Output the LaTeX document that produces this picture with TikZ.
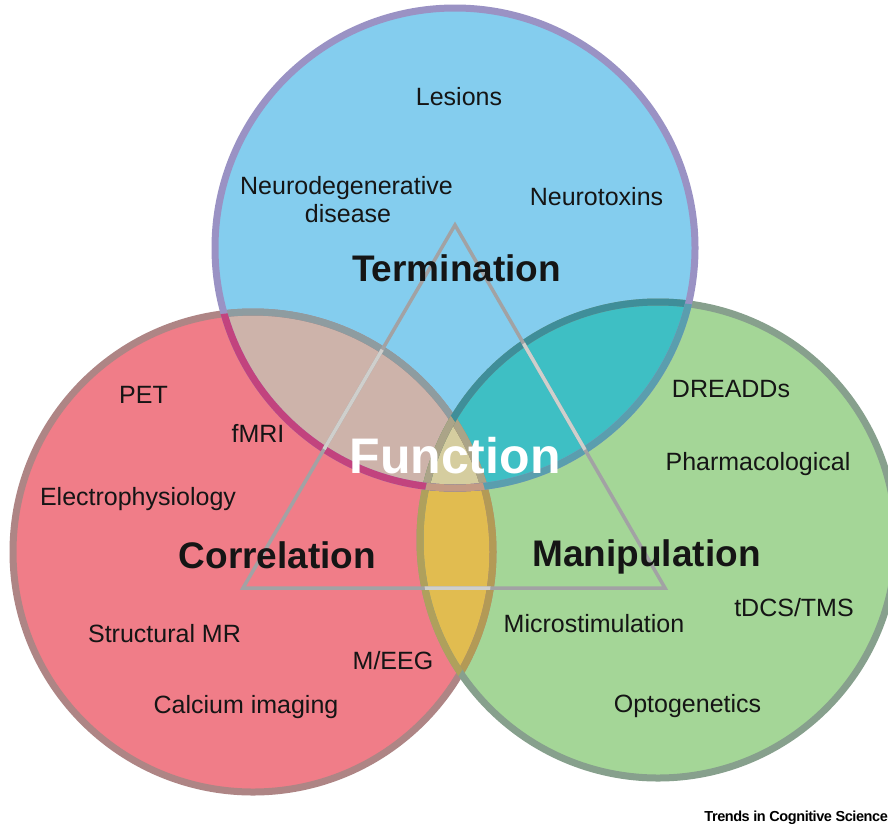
\documentclass[tikz,border=0pt]{standalone}
\usepackage{fontspec}
\setmainfont{Liberation Sans}
\definecolor{fT}{HTML}{84CDEE}
\definecolor{fL}{HTML}{F07D88}
\definecolor{fR}{HTML}{A4D697}
\definecolor{fTL}{HTML}{CDB3AA}
\definecolor{fTR}{HTML}{3EBFC4}
\definecolor{fLR}{HTML}{E1BC50}
\definecolor{fTLR}{HTML}{D5CD9F}
\definecolor{sT}{HTML}{9A92C4}
\definecolor{sTL}{HTML}{C2437E}
\definecolor{sTR}{HTML}{5A9EAE}
\definecolor{sTLR}{HTML}{C49A84}
\definecolor{sL}{HTML}{AE8585}
\definecolor{sLT}{HTML}{8E9CA0}
\definecolor{sLR}{HTML}{B39A56}
\definecolor{sLTR}{HTML}{ABA488}
\definecolor{sR}{HTML}{87A08D}
\definecolor{sRT}{HTML}{3F8E99}
\definecolor{sRL}{HTML}{AFA05C}
\definecolor{sRTL}{HTML}{ABA488}
\definecolor{triC}{HTML}{A2A2A4}
\definecolor{triLight}{HTML}{CFCFCC}
\definecolor{txt}{HTML}{151515}
\tikzset{
  ring/.style={line width=7pt},
  tri/.style={line width=3.5pt, draw=triC, line join=miter},
  trilight/.style={line width=3.5pt, draw=triLight, line join=miter},
  lbl/.style={anchor=base, inner sep=0pt, text=txt, font=\fontsize{25}{28}\selectfont},
  big/.style={anchor=base, inner sep=0pt, text=txt, font=\bfseries\fontsize{37}{40}\selectfont},
}
\begin{document}
\begin{tikzpicture}[x=1pt,y=-1pt]
\useasboundingbox (0,0) rectangle (888,825);
\fill[white] (0,0) rectangle (888,825);
\clip (0,0) rectangle (888,825);
\coordinate (cT) at (455,248);
\coordinate (cL) at (253,552);
\coordinate (cR) at (658,540);
% fills
\fill[fT] (cT) circle[radius=240pt];
\fill[fL] (cL) circle[radius=240pt];
\fill[fR] (cR) circle[radius=238pt];
\begin{scope}\clip (cT) circle[radius=240pt]; \fill[fTL] (cL) circle[radius=240pt];\end{scope}
\begin{scope}\clip (cT) circle[radius=240pt]; \fill[fTR] (cR) circle[radius=238pt];\end{scope}
\begin{scope}\clip (cL) circle[radius=240pt]; \fill[fLR] (cR) circle[radius=238pt];\end{scope}
\begin{scope}\clip (cT) circle[radius=240pt]; \clip (cL) circle[radius=240pt]; \fill[fTLR] (cR) circle[radius=238pt];\end{scope}
% left circle stroke
\draw[ring,sL] (cL) circle[radius=240pt];
\begin{scope}\clip (cT) circle[radius=240pt]; \draw[ring,sLT] (cL) circle[radius=240pt];\end{scope}
\begin{scope}\clip (cR) circle[radius=238pt]; \draw[ring,sLR] (cL) circle[radius=240pt];\end{scope}
\begin{scope}\clip (cT) circle[radius=240pt]; \clip (cR) circle[radius=238pt]; \draw[ring,sLTR] (cL) circle[radius=240pt];\end{scope}
% right circle stroke
\draw[ring,sR] (cR) circle[radius=238pt];
\begin{scope}\clip (cT) circle[radius=240pt]; \draw[ring,sRT] (cR) circle[radius=238pt];\end{scope}
\begin{scope}\clip (cL) circle[radius=240pt]; \draw[ring,sRL] (cR) circle[radius=238pt];\end{scope}
\begin{scope}\clip (cT) circle[radius=240pt]; \clip (cL) circle[radius=240pt]; \draw[ring,sRTL] (cR) circle[radius=238pt];\end{scope}
% top circle stroke
\draw[ring,sT] (cT) circle[radius=240pt];
\begin{scope}\clip (cL) circle[radius=240pt]; \draw[ring,sTL] (cT) circle[radius=240pt];\end{scope}
\begin{scope}\clip (cR) circle[radius=238pt]; \draw[ring,sTR] (cT) circle[radius=240pt];\end{scope}
\begin{scope}\clip (cL) circle[radius=240pt]; \clip (cR) circle[radius=238pt]; \draw[ring,sTLR] (cT) circle[radius=240pt];\end{scope}
% triangle
\coordinate (tA) at (455,225);
\coordinate (tB) at (243,588);
\coordinate (tC) at (665,588);
\draw[tri] (tA) -- (tB) -- (tC) -- cycle;
\begin{scope}\clip (cT) circle[radius=240pt]; \clip (cL) circle[radius=240pt]; \draw[trilight] (tA) -- (tB) -- (tC) -- cycle;\end{scope}
\begin{scope}\clip (cT) circle[radius=240pt]; \clip (cR) circle[radius=238pt]; \draw[trilight] (tA) -- (tB) -- (tC) -- cycle;\end{scope}
\begin{scope}\clip (cL) circle[radius=240pt]; \clip (cR) circle[radius=238pt]; \draw[trilight] (tA) -- (tB) -- (tC) -- cycle;\end{scope}
% labels: termination
\node[lbl] (lesions) at (459,105) {Lesions};
\node[lbl] (neurodeg) at (346.5,194) {Neurodegenerative};
\node[lbl] (disease) at (348,222) {disease};
\node[lbl] (neurotox) at (596.5,205) {Neurotoxins};
\node[big] (termination) at (456.5,281) {Termination};
% correlation
\node[lbl] (pet) at (143.5,403) {PET};
\node[lbl] (fmri) at (258,442) {fMRI};
\node[lbl] (ephys) at (138,505) {Electrophysiology};
\node[big] (correlation) at (277.5,568) {Correlation};
\node[lbl] (structmr) at (164.5,642) {Structural MR};
\node[lbl] (meeg) at (393,669) {M/EEG};
\node[lbl] (calcium) at (246,713) {Calcium imaging};
% manipulation
\node[lbl] (dreadds) at (731,397) {DREADDs};
\node[lbl] (pharma) at (758,470) {Pharmacological};
\node[big] (manipulation) at (646.5,566) {Manipulation};
\node[lbl] (microstim) at (594,632) {Microstimulation};
\node[lbl] (tdcs) at (794,616) {tDCS/TMS};
\node[lbl] (opto) at (687.5,712) {Optogenetics};
% center
\node[anchor=base, inner sep=0pt, text=white, font=\bfseries\fontsize{50}{54}\selectfont] (function) at (455,473) {Function};
% credit
\node[anchor=base east, inner sep=0pt, text=black, font=\bfseries\fontsize{14.5}{16}\selectfont\addfontfeature{LetterSpace=-3}] (credit) at (888,821) {Trends in Cognitive Science};
\end{tikzpicture}
\end{document}
